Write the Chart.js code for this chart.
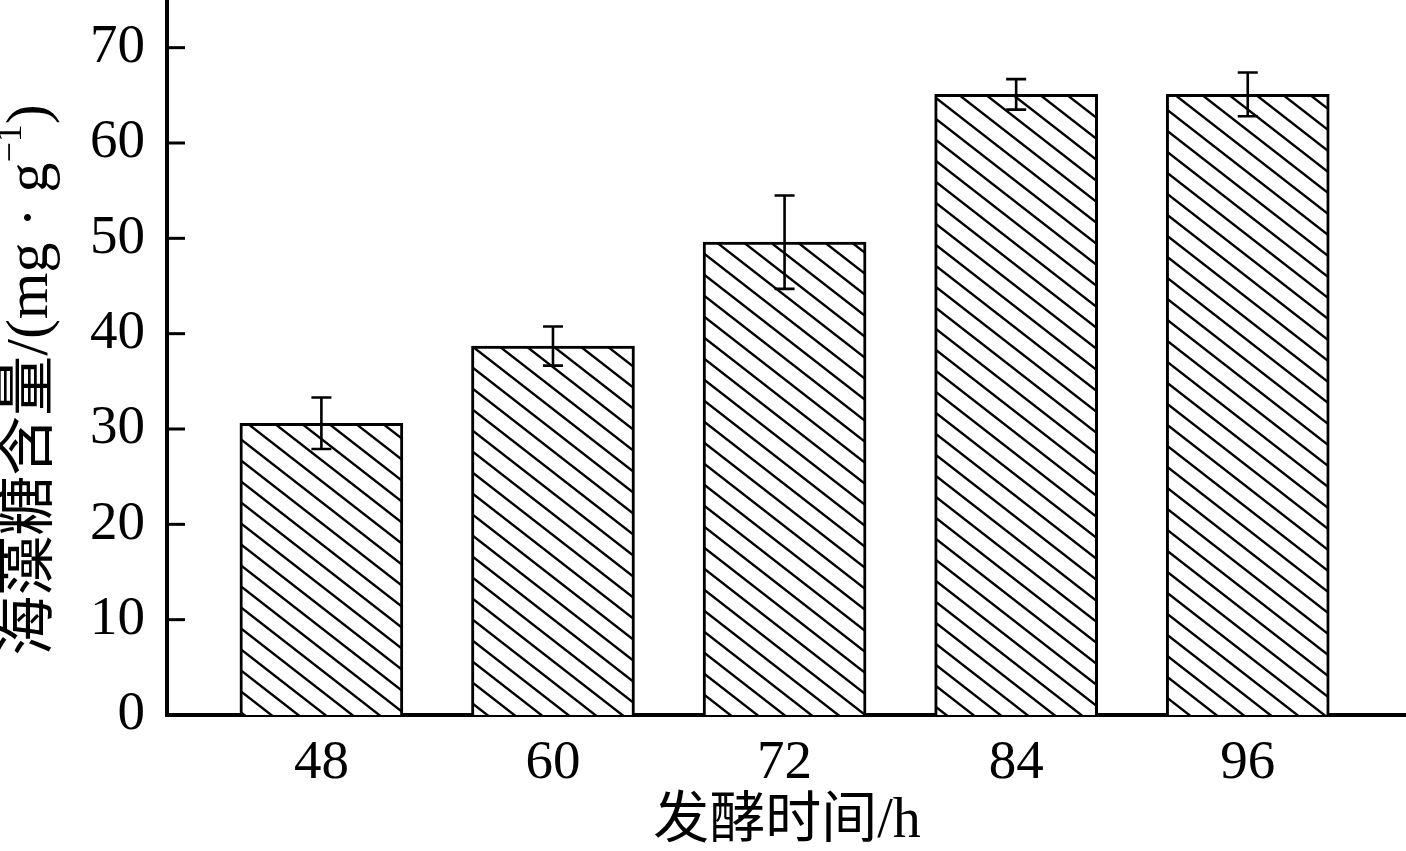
<!DOCTYPE html>
<html>
<head>
<meta charset="utf-8">
<title>海藻糖含量</title>
<script src="https://cdn.jsdelivr.net/npm/chart.js@4/dist/chart.umd.min.js"></script>
<style>
  html,body{margin:0;padding:0;background:#fff;}
  #chart-wrap{width:1406px;height:851px;}
</style>
</head>
<body>
<div id="chart-wrap"><canvas id="trehalose-chart" width="1406" height="851"></canvas></div>
<script>
// data
const fermentHours=[48,60,72,84,96];
const trehaloseContent=[30.6,38.7,49.6,65.1,65.1];
const trehaloseError=[2.7,2.05,4.9,1.6,2.3];
const yTickValues=[0,10,20,30,40,50,60,70];

const serif='"Liberation Serif","Noto Sans CJK SC",serif';

// diagonal hatch "\\\\" used for all bars
function makeHatch(){
  const w=27,h=21;
  const c=document.createElement('canvas');
  c.width=w;c.height=h;
  const g=c.getContext('2d');
  g.fillStyle='#fff';
  g.fillRect(0,0,w,h);
  g.strokeStyle='#000';
  g.lineWidth=2.4;
  [-h,0,h].forEach(off=>{
    g.beginPath();
    g.moveTo(-2,off-2*h/w);
    g.lineTo(w+2,off+h+2*h/w);
    g.stroke();
  });
  return g.createPattern(c,'repeat');
}

const errorBars={
  id:'errorBars',
  afterDatasetsDraw(chart){
    const {ctx,scales:{x,y}}=chart;
    ctx.save();
    ctx.strokeStyle='#000';
    ctx.lineWidth=2.6;
    fermentHours.forEach((hr,i)=>{
      const px=x.getPixelForValue(hr);
      const top=y.getPixelForValue(trehaloseContent[i]+trehaloseError[i]);
      const bot=y.getPixelForValue(trehaloseContent[i]-trehaloseError[i]);
      ctx.beginPath();
      ctx.moveTo(px,top);ctx.lineTo(px,bot);
      ctx.moveTo(px-10,top);ctx.lineTo(px+10,top);
      ctx.moveTo(px-10,bot);ctx.lineTo(px+10,bot);
      ctx.stroke();
    });
    ctx.restore();
  }
};

// inward tick marks on the y axis + both axis titles
const axisDecor={
  id:'axisDecor',
  afterDraw(chart){
    const {ctx,chartArea,scales:{y}}=chart;
    ctx.save();
    ctx.strokeStyle='#000';
    ctx.lineWidth=3;
    yTickValues.slice(1).forEach(v=>{
      const py=y.getPixelForValue(v);
      ctx.beginPath();
      ctx.moveTo(chartArea.left,py);
      ctx.lineTo(chartArea.left+18,py);
      ctx.stroke();
    });

    ctx.fillStyle='#000';
    ctx.textBaseline='middle';
    ctx.textAlign='center';
    ctx.font='56px '+serif;
    ctx.fillText('发酵时间/h',787,822);

    // y title, rotated, with superscript -1
    ctx.translate(31,380);
    ctx.rotate(-Math.PI/2);
    ctx.textAlign='left';
    const mainFont='60px '+serif, supFont='36px '+serif;
    const parts=[
      {t:'海藻糖含量/(mg · g',f:mainFont,dy:0},
      {t:'−1',f:supFont,dy:-19},
      {t:')',f:mainFont,dy:0}
    ];
    let total=0;
    parts.forEach(p=>{ctx.font=p.f;p.w=ctx.measureText(p.t).width;total+=p.w;});
    let cx=-total/2;
    parts.forEach(p=>{ctx.font=p.f;ctx.fillText(p.t,cx,p.dy);cx+=p.w;});
    ctx.restore();
  }
};

window.onload=()=>{
  const ctx=document.getElementById('trehalose-chart');
  new Chart(ctx,{
    type:'bar',
    data:{
      datasets:[{
        label:'海藻糖含量',
        data:fermentHours.map((hr,i)=>({x:hr,y:trehaloseContent[i]})),
        backgroundColor:makeHatch(),
        borderColor:'#000',
        borderWidth:3,
        barThickness:163
      }]
    },
    options:{
      responsive:false,
      animation:false,
      devicePixelRatio:1,
      layout:{padding:0},
      plugins:{legend:{display:false},tooltip:{enabled:false},title:{display:false}},
      scales:{
        x:{
          type:'linear',
          min:40,max:104.2,
          offset:false,
          z:1,
          afterFit:s=>{s.height=136;s.paddingLeft=0;s.paddingRight=0;},
          afterBuildTicks:s=>{s.ticks=fermentHours.map(v=>({value:v}));},
          grid:{display:false,drawTicks:false},
          border:{display:true,color:'#000',width:4},
          ticks:{color:'#000',font:{family:serif,size:55},padding:16,maxRotation:0,autoSkip:false}
        },
        y:{
          min:0,max:75,
          afterFit:s=>{s.width=167;s.paddingTop=0;s.paddingBottom=0;},
          afterBuildTicks:s=>{s.ticks=yTickValues.map(v=>({value:v}));},
          grid:{display:false,drawTicks:false},
          border:{display:true,color:'#000',width:4},
          ticks:{color:'#000',font:{family:serif,size:55},padding:22}
        }
      }
    },
    plugins:[errorBars,axisDecor]
  });
};
</script>
</body>
</html>
